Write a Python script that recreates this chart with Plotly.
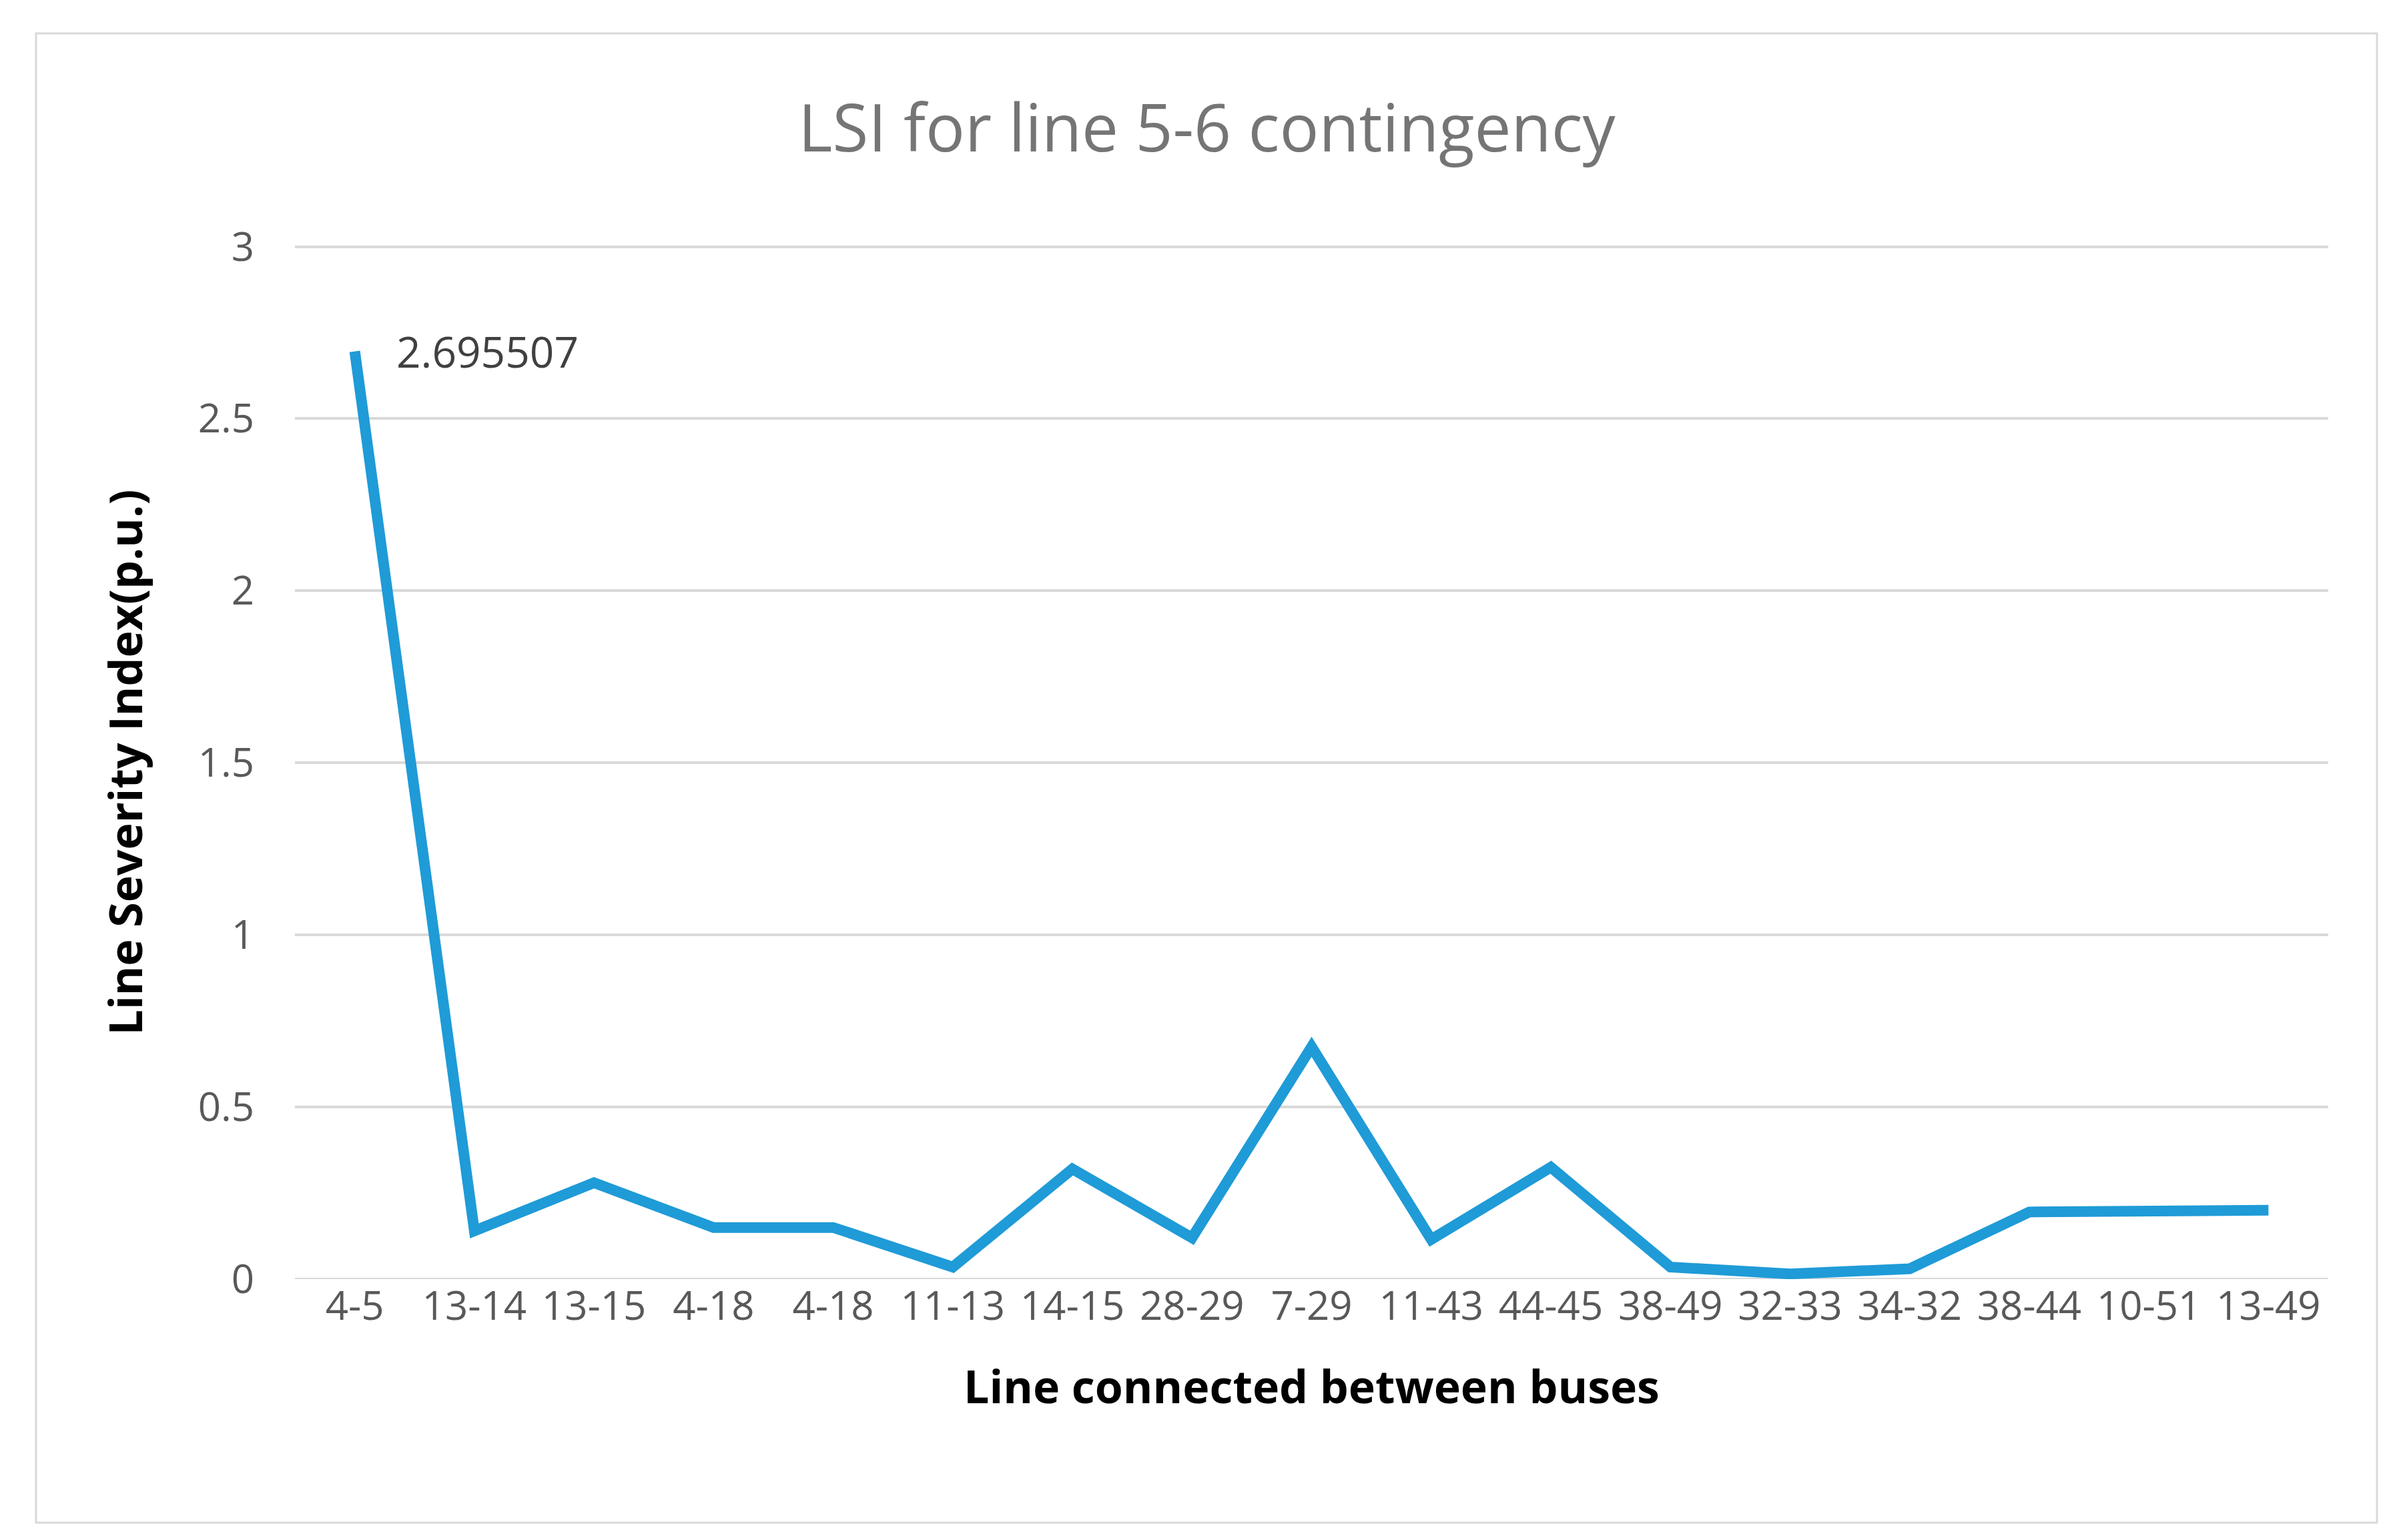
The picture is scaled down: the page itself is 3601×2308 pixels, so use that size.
import plotly.graph_objects as go

categories = ["4-5","13-14","13-15","4-18","4-18","11-13","14-15","28-29","7-29","11-43","44-45","38-49","32-33","34-32","38-44","10-51","13-49"]
values = [2.695507,0.14,0.28,0.15,0.15,0.035,0.32,0.12,0.675,0.115,0.325,0.035,0.015,0.03,0.195,0.2,0.2]
y_ticks = [0,0.5,1,1.5,2,2.5,3]
y_labels = ["0","0.5","1","1.5","2","2.5","3"]

x = list(range(len(categories)))
W, H = 3601, 2308
L, R, T, B = 434, 3481, 360, 1909

fig = go.Figure(go.Scatter(x=x, y=values, mode="lines",
    line=dict(color="#1f9bd7", width=16), hoverinfo="skip", cliponaxis=False))
fig.add_annotation(x=x[0], y=values[0], text="2.695507", showarrow=False,
    xanchor="left", xshift=60, font=dict(size=64, color="#404040"))
fig.update_layout(
    width=W, height=H, paper_bgcolor="white", plot_bgcolor="white",
    margin=dict(l=L, r=W-R, t=T, b=H-B),
    showlegend=False,
    title=dict(text="LSI for line 5-6 contingency", x=0.5, xanchor="center", y=1-185/H, yanchor="middle",
               font=dict(family="Open Sans, Liberation Sans", size=98, color="#757575")),
    font=dict(family="Open Sans, Liberation Sans", color="#595959"),
    xaxis=dict(range=[-0.5, 16.5], tickvals=x, ticktext=categories, showgrid=False,
               tickfont=dict(size=60, color="#595959"), ticks="", zeroline=False,
               title=dict(text="<b>Line connected between buses</b>", font=dict(size=68, color="black"), standoff=60)),
    yaxis=dict(range=[0, 3.003], tickvals=y_ticks, ticktext=y_labels, showgrid=True, gridcolor="#d9d9d9", gridwidth=4,
               tickfont=dict(size=60, color="#595959"), zeroline=False, ticks="", ticklabelstandoff=60,
               title=dict(text="<b>Line Severity Index(p.u.)</b>", font=dict(size=68, color="black"), standoff=60)),
    shapes=[dict(type="rect", xref="paper", yref="paper", layer="below",
                 x0=-(L-46)/(R-L), x1=1+(3554-R)/(R-L), y0=-(2274-B)/(B-T), y1=1+(T-42)/(B-T),
                 line=dict(color="#d9d9d9", width=3)),
            dict(type="line", xref="paper", yref="y", x0=0, x1=1, y0=0, y1=0, layer="below",
                 line=dict(color="#d9d9d9", width=4))]
)
fig.write_html("out.html")
